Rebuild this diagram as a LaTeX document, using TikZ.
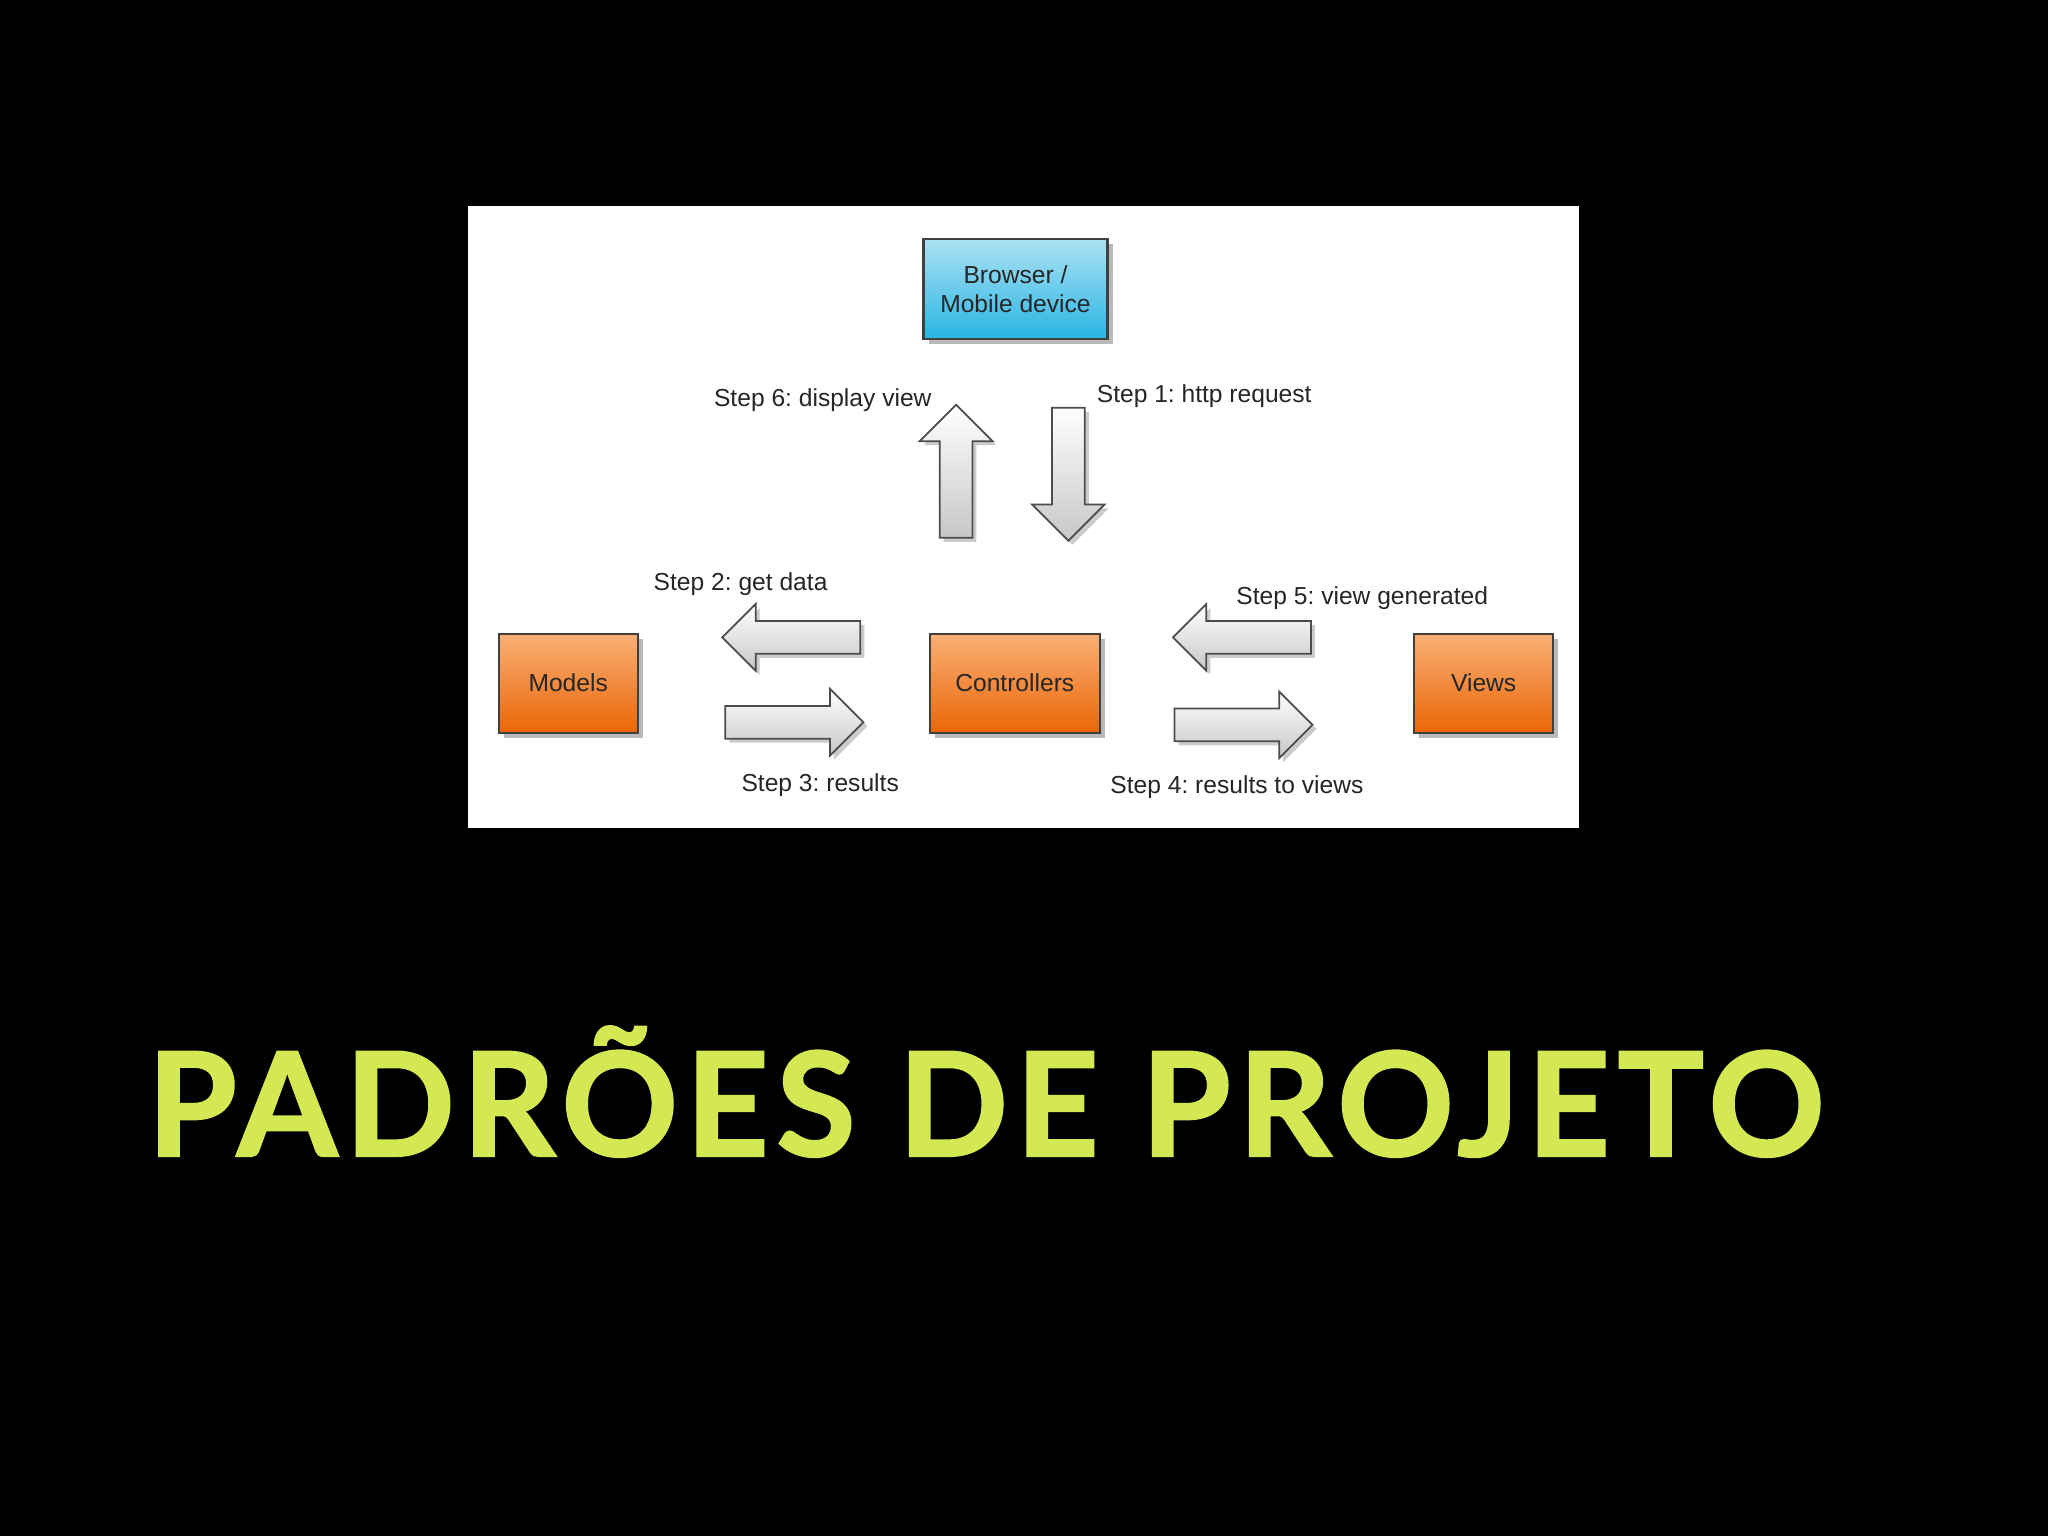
\documentclass[tikz,border=0pt]{standalone}
\usepackage{fontspec}
\setmainfont{Liberation Sans}
\newfontfamily\titlefont{Lato}[LetterSpace=5.4, FakeBold=1.6]
\usetikzlibrary{positioning,shapes.arrows,shadows}
\definecolor{titlegreen}{RGB}{212,232,84}
\definecolor{orangetop}{RGB}{248,176,118}
\definecolor{orangebot}{RGB}{236,102,8}
\definecolor{cyantop}{RGB}{172,226,242}
\definecolor{cyanbot}{RGB}{40,180,228}
\tikzset{
  mvcbox/.style={draw=black!75, line width=0.6pt, inner sep=0pt,
    minimum width=1.39cm, minimum height=0.99cm,
    top color=orangetop, bottom color=orangebot,
    font=\fontsize{7}{8.2}\selectfont, text=black!85,
    drop shadow={shadow xshift=0.05cm, shadow yshift=-0.05cm, fill=black!50, opacity=0.55}},
  steparrow/.style={single arrow, draw=black!70, line width=0.5pt,
    top color=white, bottom color=black!22,
    inner xsep=0pt, inner ysep=0.155cm, minimum width=0pt,
    single arrow head extend=0.17cm, minimum height=1.38cm,
    drop shadow={shadow xshift=0.04cm, shadow yshift=-0.04cm, fill=black!40, opacity=0.5}},
  steplabel/.style={font=\fontsize{7}{8.2}\selectfont, text=black!85, inner sep=0pt}
}
\frenchspacing
\begin{document}
\begin{tikzpicture}
    % Black page and white panel
    \fill[black] (0,0) rectangle (20.48,15.36);
    \useasboundingbox (0,0) rectangle (20.48,15.36);
    \fill[white] (4.676,7.079) rectangle (15.791,13.296);
    % Boxes
    \node[mvcbox, top color=cyantop, bottom color=cyanbot, minimum width=1.84cm,
          minimum height=1.0cm, align=center] (browser) at (10.155,12.467) {Browser /\\Mobile device};
    \node[mvcbox] (models) at (5.682,8.529) {Models};
    \node[mvcbox, minimum width=1.70cm] (controllers) at (10.148,8.529) {Controllers};
    \node[mvcbox] (views) at (14.837,8.529) {Views};
    % Block arrows
    \node[steparrow, rotate=90, minimum height=1.33cm, single arrow head extend=0.2cm] (upsix) at (9.561,10.565) {};
    \node[steparrow, rotate=-90, minimum height=1.33cm, single arrow head extend=0.2cm] (downone) at (10.684,10.699) {};
    \node[steparrow, rotate=180] (lefttwo) at (7.995,8.986) {};
    \node[steparrow] (rightthree) at (7.861,8.137) {};
    \node[steparrow, rotate=180] (leftfive) at (12.501,8.986) {};
    \node[steparrow] (rightfour) at (12.354,8.111) {};
    % Step labels
    \node[steplabel] (lblsix) at (8.228,11.363) {Step 6: display view};
    \node[steplabel] (lblone) at (12.042,11.402) {Step 1: http request};
    \node[steplabel] (lbltwo) at (7.406,9.522) {Step 2: get data};
    \node[steplabel] (lblthree) at (8.202,7.510) {Step 3: results};
    \node[steplabel] (lblfive) at (13.623,9.378) {Step 5: view generated};
    \node[steplabel] (lblfour) at (12.369,7.484) {Step 4: results to views};
    % Title
    \node[font=\titlefont\bfseries\fontsize{41}{48}\selectfont, text=titlegreen, anchor=base,
          inner sep=0pt] (title) at (9.861,3.801) {PADRÕES DE PROJETO};
\end{tikzpicture}
\end{document}
